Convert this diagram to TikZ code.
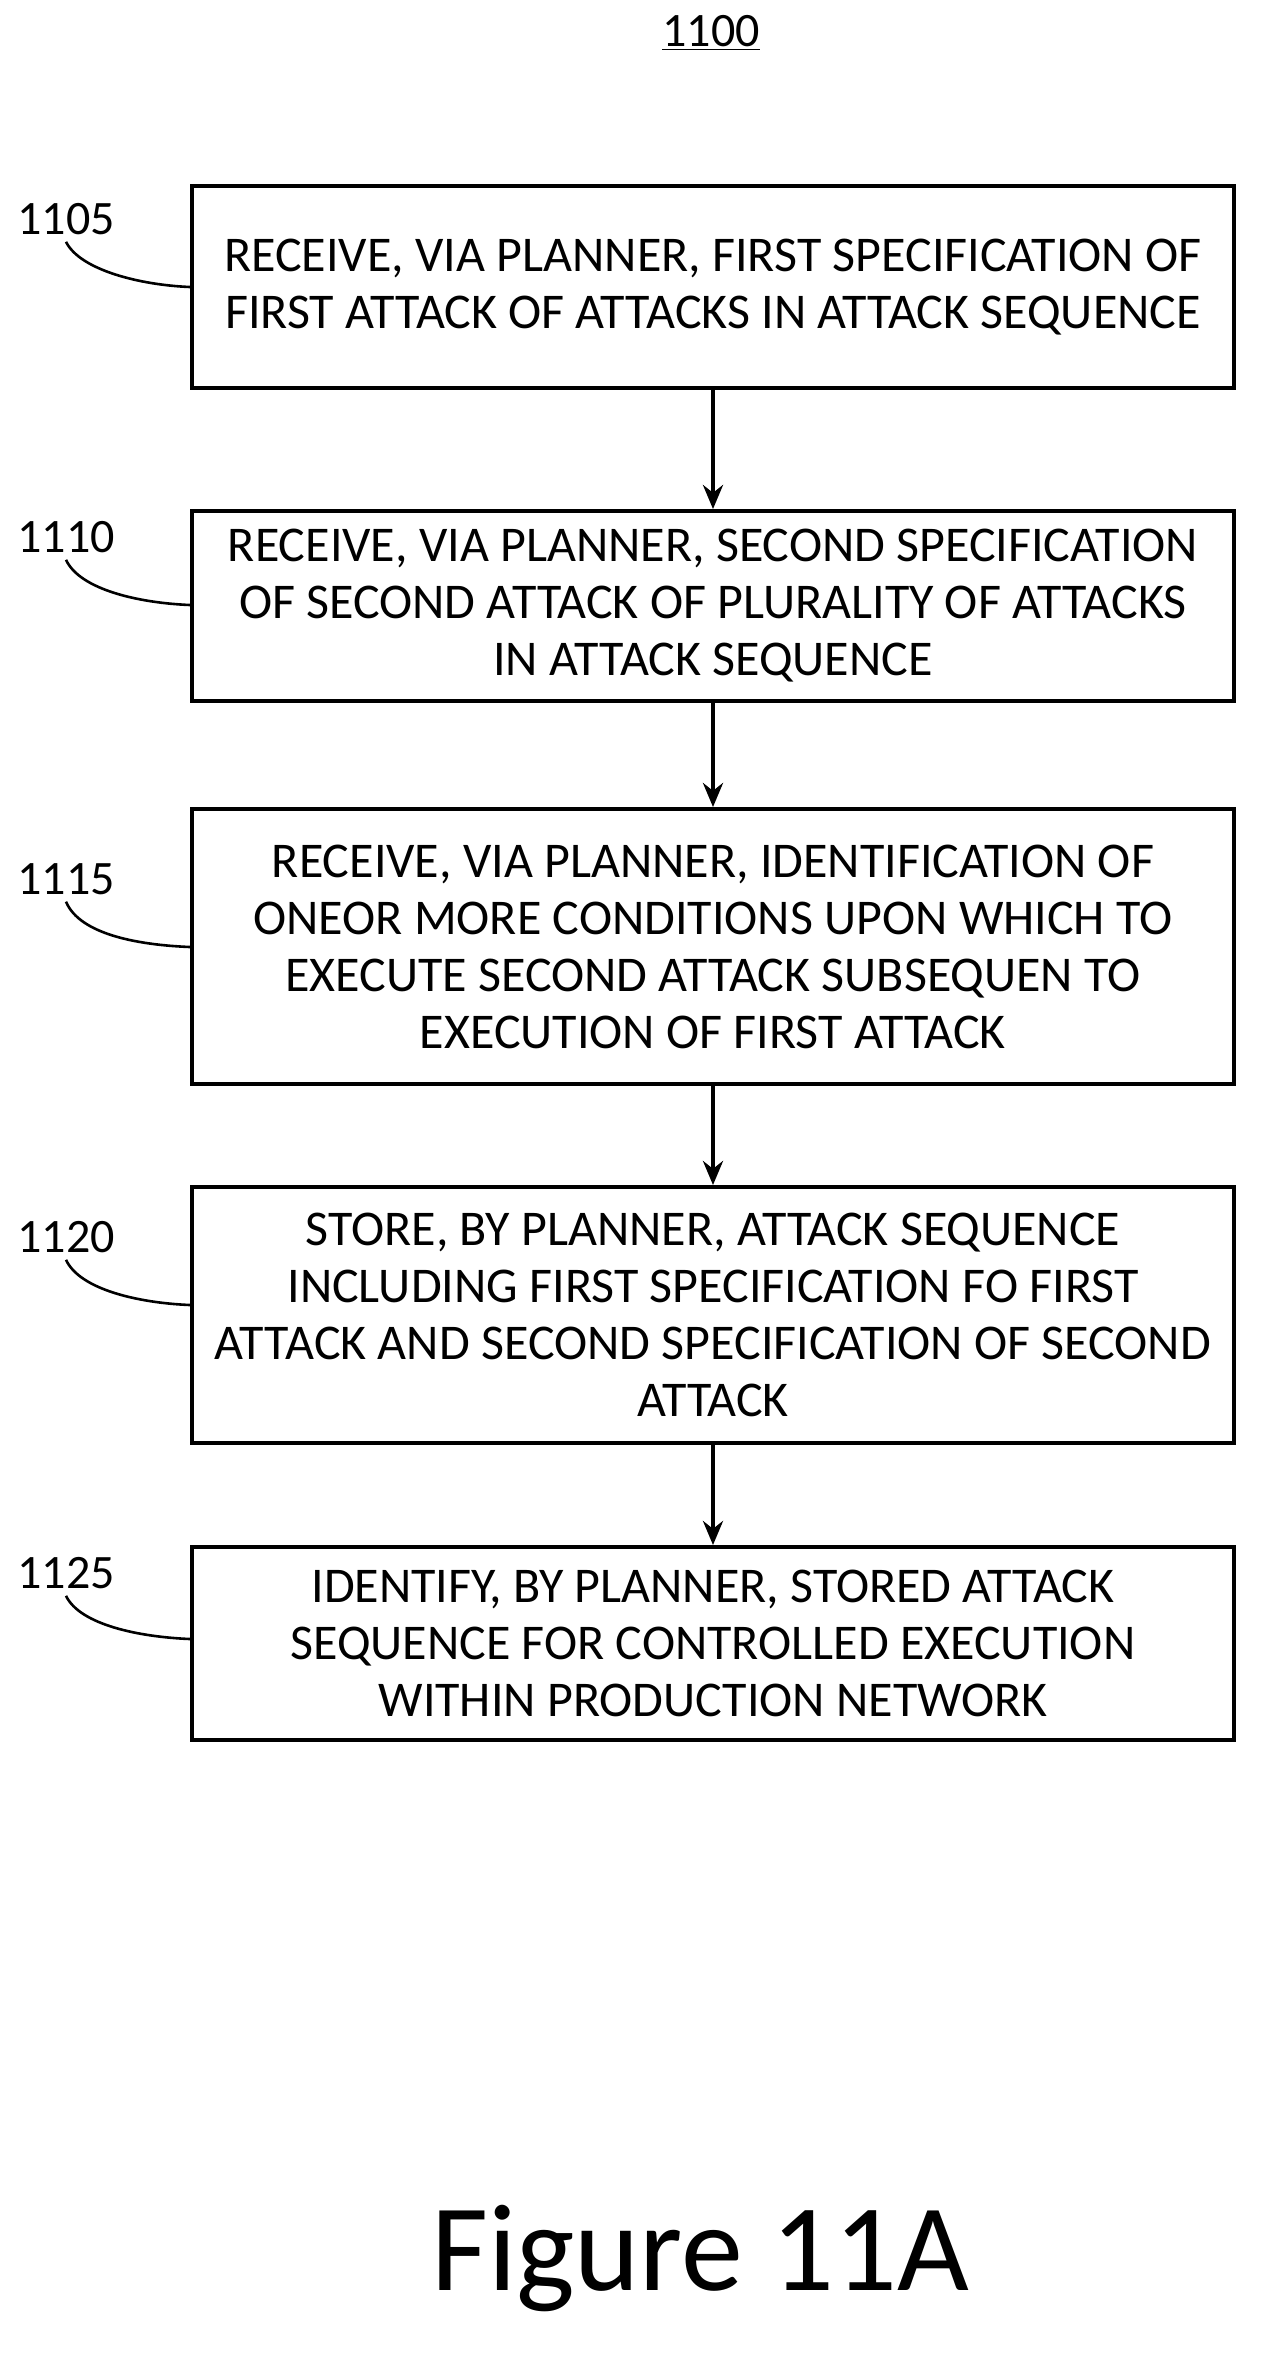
\documentclass[tikz,border=0pt]{standalone}
\usepackage{fontspec}
\setmainfont{Carlito}
\usetikzlibrary{arrows.meta}
\begin{document}
\begin{tikzpicture}[x=0.5pt,y=-0.5pt,
 box/.style={draw,line width=2pt,minimum width=521pt,align=center,font=\fontsize{25}{28.5}\selectfont,inner sep=0pt},
 lab/.style={font=\fontsize{24}{28}\selectfont},
 arr/.style={line width=2pt,-{Stealth[length=12pt,width=10pt]}},
 lead/.style={line width=1.3pt}]
\useasboundingbox (0,0) rectangle (1267,2363);
\node[font=\fontsize{24}{28}\selectfont] (t) at (711,33) {\underline{1100}};
\node[box,minimum height=101pt] (b1) at (713,287) {RECEIVE, VIA PLANNER, FIRST SPECIFICATION OF\\FIRST ATTACK OF ATTACKS IN ATTACK SEQUENCE};
\node[box,minimum height=95pt] (b2) at (713,606) {RECEIVE, VIA PLANNER, SECOND SPECIFICATION\\OF SECOND ATTACK OF PLURALITY OF ATTACKS\\IN ATTACK SEQUENCE};
\node[box,minimum height=137.5pt] (b3) at (713,946.5) {RECEIVE, VIA PLANNER, IDENTIFICATION OF\\ONEOR MORE CONDITIONS UPON WHICH TO\\EXECUTE SECOND ATTACK SUBSEQUEN TO\\EXECUTION OF FIRST ATTACK};
\node[box,minimum height=128pt] (b4) at (713,1315) {STORE, BY PLANNER, ATTACK SEQUENCE\\INCLUDING FIRST SPECIFICATION FO FIRST\\ATTACK AND SECOND SPECIFICATION OF SECOND\\ATTACK};
\node[box,minimum height=96.5pt] (b5) at (713,1643.5) {IDENTIFY, BY PLANNER, STORED ATTACK\\SEQUENCE FOR CONTROLLED EXECUTION\\WITHIN PRODUCTION NETWORK};
\foreach \a/\b in {b1/b2,b2/b3,b3/b4,b4/b5} \draw[arr] (\a.south) -- (\b.north);
\node[lab] (l1) at (66,219) {1105};
\node[lab] (l2) at (66,537) {1110};
\node[lab] (l3) at (66,879) {1115};
\node[lab] (l4) at (66,1237) {1120};
\node[lab] (l5) at (66,1573) {1125};
\draw[lead] (l1.south) .. controls (80,270) and (140,285) .. (b1.west|-0,287);
\draw[lead] (l2.south) .. controls (80,590) and (140,603) .. (b2.west|-0,605);
\draw[lead] (l3.south) .. controls (80,935) and (140,945) .. (b3.west|-0,947);
\draw[lead] (l4.south) .. controls (80,1290) and (140,1303) .. (b4.west|-0,1305);
\draw[lead] (l5.south) .. controls (80,1625) and (140,1637) .. (b5.west|-0,1639);
\node[font=\fontsize{62}{68}\selectfont] (fig) at (700,2258) {Figure 11A};
\end{tikzpicture}
\end{document}
